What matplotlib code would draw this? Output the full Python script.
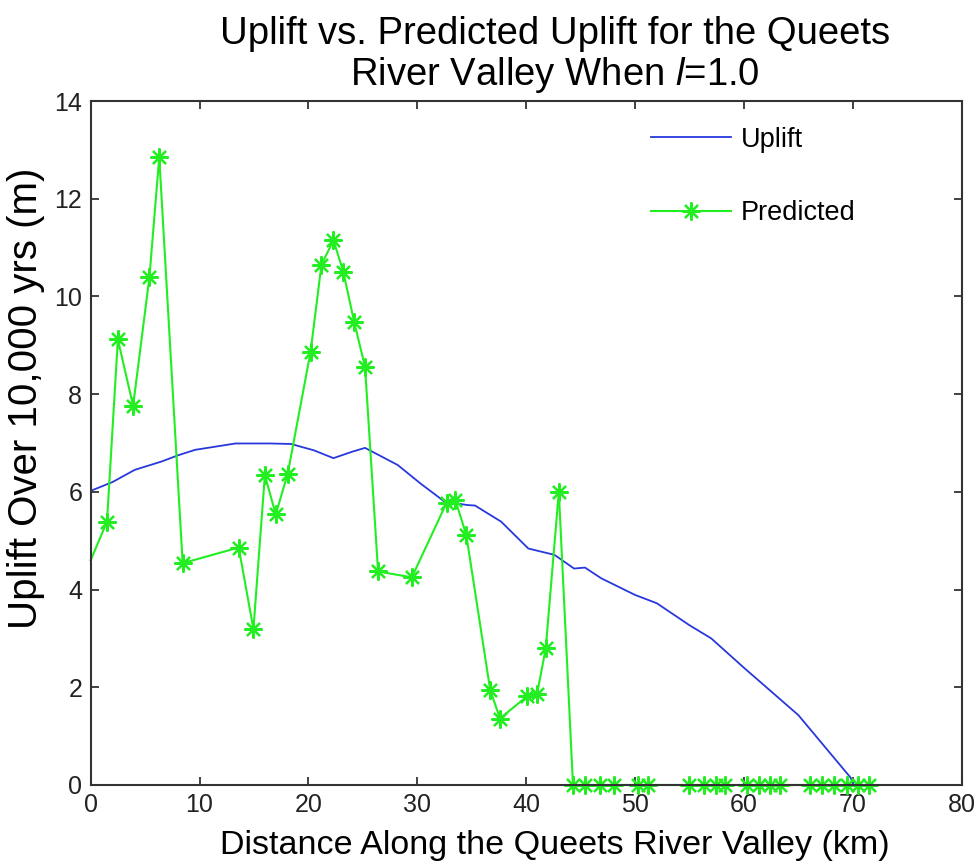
import matplotlib
matplotlib.use("Agg")
import matplotlib.pyplot as plt

plt.rcParams['font.family'] = ['Liberation Sans', 'DejaVu Sans']
plt.rcParams['mathtext.fontset'] = 'custom'
plt.rcParams['mathtext.rm'] = 'Liberation Sans'
plt.rcParams['mathtext.it'] = 'Liberation Sans:italic'

# modelled uplift along the valley
uplift_x = [0, 2, 4.05, 6.5, 8.05, 9.6, 13.3, 16.5, 18.4, 20.5, 22.3, 24.0, 25.2,
            28.2, 30.3, 32.5, 34.6, 35.3, 37.7, 40.2, 42.6, 44.4, 45.4, 46.9,
            50.0, 52.0, 55.0, 57.0, 60.0, 65.0, 69.8, 70.0]
uplift_y = [6.02, 6.2, 6.45, 6.62, 6.75, 6.86, 6.99, 6.99, 6.98, 6.85, 6.69, 6.82, 6.9,
            6.55, 6.17, 5.8, 5.73, 5.72, 5.39, 4.84, 4.71, 4.43, 4.45, 4.23,
            3.89, 3.72, 3.27, 3.0, 2.4, 1.43, 0.15, 0.03]

# predicted uplift (first value is the boundary, drawn without a marker)
pred_x = [0, 1.5, 2.5, 3.9, 5.4, 6.3, 8.45, 13.6, 14.95, 16.0, 17.0, 18.1,
          20.2, 21.2, 22.3, 23.2, 24.2, 25.2, 26.4, 29.5, 32.7, 33.5, 34.5,
          36.7, 37.6, 40.1, 41.0, 41.8, 43.0,
          44.3, 45.4, 46.8, 48.1, 50.3, 51.2, 55.0, 56.3, 57.4, 58.3,
          60.3, 61.4, 62.4, 63.3, 66.1, 67.2, 68.3, 69.5, 70.5, 71.5]
pred_y = [4.6, 5.39, 9.12, 7.76, 10.4, 12.85, 4.54, 4.86, 3.19, 6.34, 5.54, 6.37,
          8.87, 10.65, 11.15, 10.51, 9.48, 8.56, 4.37, 4.25, 5.78, 5.83, 5.12,
          1.94, 1.36, 1.82, 1.86, 2.8, 6.0,
          0, 0, 0, 0, 0, 0, 0, 0, 0, 0,
          0, 0, 0, 0, 0, 0, 0, 0, 0, 0]

x_ticks = list(range(0, 81, 10))
y_ticks = list(range(0, 15, 2))

fig = plt.figure(figsize=(9.79, 8.67), dpi=100)
ax = fig.add_axes([0.0926, 0.0946, 0.8897, 0.7889])

ax.plot(uplift_x, uplift_y, color='#2838dd', lw=1.3, label='Uplift')
ax.plot(pred_x, pred_y, color='#22ee22', lw=1.5, marker=(8, 2, 0),
        markersize=13, markeredgewidth=1.6, label='Predicted', clip_on=False,
        markevery=list(range(1, len(pred_x))))

ax.set_xlim(0, 80)
ax.set_ylim(0, 14)
ax.set_xticks(x_ticks)
ax.set_yticks(y_ticks)
ax.tick_params(direction='in', length=6, width=1.2, top=True, right=True,
               labelsize=18, colors='#222222', pad=6)
for s in ax.spines.values():
    s.set_linewidth(1.5)
    s.set_color('#333333')

ax.set_xlabel('Distance Along the Queets River Valley (km)', fontsize=24.5)
ax.xaxis.set_label_coords(0.533, -0.066)
ax.set_ylabel('Uplift Over 10,000 yrs (m)', fontsize=29)
ax.yaxis.set_label_coords(-0.052, 0.565)

fig.text(0.567, 0.982, 'Uplift vs. Predicted Uplift for the Queets\n'
         r'River Valley When $\mathit{l}$=1.0', fontsize=27.5, ha='center',
         va='top', linespacing=1.1)

ax.legend(loc='upper right', frameon=False, fontsize=19.5, handlelength=2.95,
          handletextpad=0.37, labelspacing=1.75, numpoints=1,
          borderaxespad=0.55, bbox_to_anchor=(0.908, 1.0))

fig.savefig('out.png', dpi=100)
